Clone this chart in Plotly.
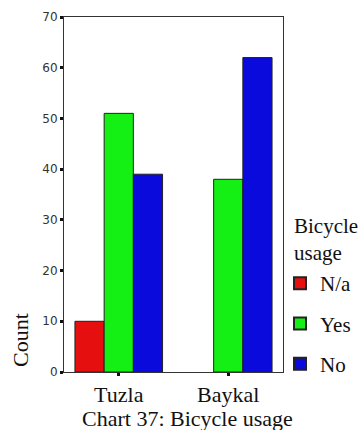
import plotly.graph_objects as go

categories = ["Tuzla", "Baykal"]
series_names = ["N/a", "Yes", "No"]
na_values = [10, None]
yes_values = [51, 38]
no_values = [39, 62]
colors = ["#E60F0F", "#14F014", "#0A0ADC"]
y_ticks = [0, 10, 20, 30, 40, 50, 60, 70]

serif = "Liberation Serif, Times New Roman, serif"
sans = "DejaVu Sans, Verdana, sans-serif"

W, H = 363, 430
L, R, T, B = 64, 80, 17, 58
pw, ph = W - L - R, H - T - B

def px(xf):
    return (xf - L) / pw

def py(yf):
    return (H - B - yf) / ph

fig = go.Figure()
for i, (name, vals) in enumerate(zip(series_names, [na_values, yes_values, no_values])):
    fig.add_trace(go.Bar(
        x=categories, y=vals, name=name,
        marker=dict(color=colors[i], line=dict(color="#222", width=1)),
        legendgroup=name,
    ))

fig.update_layout(
    width=W, height=H,
    margin=dict(l=L, r=R, t=T, b=B, autoexpand=False),
    paper_bgcolor="white", plot_bgcolor="white",
    barmode="group", bargap=0.2, bargroupgap=0,
    showlegend=True,
    legend=dict(
        x=px(280), xanchor="left", y=py(263), yanchor="top",
        font=dict(family=serif, size=21, color="#111"),
        traceorder="grouped", tracegroupgap=10,
        itemsizing="constant", itemwidth=30,
        bgcolor="rgba(0,0,0,0)",
    ),
    xaxis=dict(
        showline=True, linecolor="#333", linewidth=1, mirror=True,
        ticks="outside", ticklen=3, tickwidth=3, tickcolor="#111",
        tickfont=dict(family=serif, size=22, color="#111"),
        showgrid=False,
    ),
    yaxis=dict(
        range=[0, 70], tickvals=y_ticks,
        showline=True, linecolor="#333", linewidth=1, mirror=True,
        ticks="outside", ticklen=3, tickwidth=3, tickcolor="#111",
        tickfont=dict(family=sans, size=12, color="#333"),
        showgrid=False, zeroline=False,
    ),
    annotations=[
        dict(text="Count", x=px(20), xref="paper", y=py(340), yref="paper", textangle=-90,
             showarrow=False, font=dict(family=serif, size=22, color="#111"),
             xanchor="center", yanchor="middle"),
        dict(text="Chart 37: Bicycle usage", x=px(187), xref="paper", y=py(418), yref="paper",
             showarrow=False, font=dict(family=serif, size=22, color="#111"),
             xanchor="center", yanchor="middle"),
        dict(text="Bicycle<br>usage", x=px(292), xref="paper", y=py(239), yref="paper",
             showarrow=False, font=dict(family=serif, size=21, color="#111"),
             xanchor="left", yanchor="middle", align="left"),
    ],
)

fig.write_html("out.html", config={"displayModeBar": False},
               post_script="document.body.style.margin='0';")
